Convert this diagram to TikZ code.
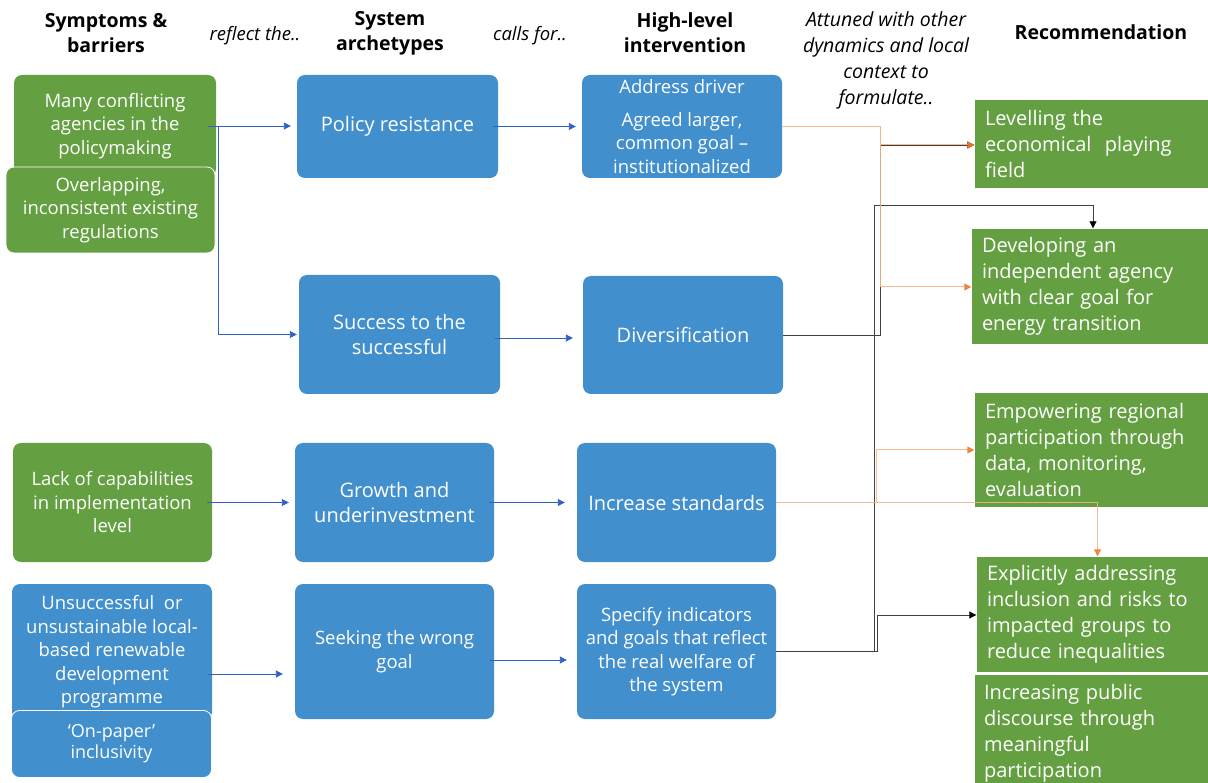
\documentclass[tikz,border=0pt]{standalone}
\usepackage{fontspec}
\setmainfont{Open Sans}
\usetikzlibrary{arrows.meta}
\definecolor{bxblue}{HTML}{428FCE}
\definecolor{bxgreen}{HTML}{64A042}
\definecolor{lnblue}{HTML}{2F62C4}
\definecolor{lnorange}{HTML}{F6B488}
\definecolor{tiporange}{HTML}{ED7D31}
\definecolor{lnblack}{HTML}{404040}
\begin{document}
\begin{tikzpicture}[x=1pt,y=-1pt,
  rbox/.style={rounded corners=8pt, text=white, align=center, inner sep=0pt, font=\fontsize{18.5}{23.5}\selectfont},
  bluebox/.style={rbox, fill=bxblue},
  greenbox/.style={rbox, fill=bxgreen},
  recbox/.style={fill=bxgreen, text=white, align=left, inner xsep=10pt, inner ysep=0pt, font=\fontsize{20}{26}\selectfont},
  hdr/.style={align=center, font=\bfseries\fontsize{19.5}{25}\selectfont},
  ital/.style={align=center, font=\itshape\fontsize{18.5}{26}\selectfont},
  bl/.style={draw=lnblue, line width=0.9pt, -{Triangle[length=7pt,width=7pt]}, shorten >=6pt},
  or/.style={draw=lnorange, line width=1pt, -{Triangle[length=7pt,width=7pt,color=tiporange]}, shorten >=0.5pt},
  bk/.style={draw=lnblack, line width=0.9pt, -{Triangle[length=7pt,width=7pt,color=black]}, shorten >=0.5pt}
]
\useasboundingbox (0,0) rectangle (1208,783);

% headers
\node[hdr] (hd1) at (106,33) {Symptoms \&\\barriers};
\node[ital] (hd2) at (255,36) {reflect the..};
\node[hdr] (hd3) at (390,33) {System\\archetypes};
\node[ital] (hd4) at (530,36) {calls for..};
\node[hdr] (hd5) at (685,33) {High-level\\intervention};
\node[ital, font=\itshape\fontsize{19.5}{26}\selectfont] (hd6) at (886,60) {Attuned with other\\dynamics and local\\context to\\formulate..};
\node[hdr] (hd7) at (1101,32) {Recommendation};

% column 1
\node[greenbox, minimum width=202pt, minimum height=102pt] (s1) at (115,126) {Many conflicting\\agencies in the\\policymaking};
\node[greenbox, draw=white, line width=0.8pt, minimum width=209pt, minimum height=86pt] (s2) at (110.5,210) {Overlapping,\\inconsistent existing\\regulations};
\node[greenbox, minimum width=199pt, minimum height=119pt] (s3) at (112.5,502.5) {Lack of capabilities\\in implementation\\level};
\node[bluebox, minimum width=200pt, minimum height=136pt] (s4) at (112,652) {Unsuccessful~ or\\unsustainable local-\\based renewable\\development\\programme};
\node[bluebox, draw=white, line width=0.8pt, minimum width=200pt, minimum height=67pt, font=\fontsize{18}{21}\selectfont] (s5) at (111.5,744) {‘On-paper’\\inclusivity};

% column 2
\node[bluebox, minimum width=201pt, minimum height=103pt, font=\fontsize{20}{25}\selectfont] (a1) at (397.5,126.5) {Policy resistance};
\node[bluebox, minimum width=201pt, minimum height=119pt, font=\fontsize{20}{25}\selectfont] (a2) at (399.5,334.5) {Success to the\\successful};
\node[bluebox, minimum width=199pt, minimum height=119pt, font=\fontsize{20}{25}\selectfont] (a3) at (394.5,502.5) {Growth and\\underinvestment};
\node[bluebox, minimum width=199pt, minimum height=135pt] (a4) at (394.5,651.5) {Seeking the wrong\\goal};

% column 3
\node[bluebox, minimum width=200pt, minimum height=103pt] (h1) at (682,126.5) {Address driver\\[9pt]Agreed larger,\\common goal --\\institutionalized};
\node[bluebox, minimum width=200pt, minimum height=118pt, font=\fontsize{20}{25}\selectfont] (h2) at (683,335) {Diversification};
\node[bluebox, minimum width=199pt, minimum height=119pt, font=\fontsize{20}{25}\selectfont] (h3) at (676.5,502.5) {Increase standards};
\node[bluebox, minimum width=199pt, minimum height=135pt] (h4) at (676.5,651.5) {Specify indicators\\and goals that reflect\\the real welfare of\\the system};

% column 4
\node[recbox, minimum width=233pt, minimum height=88pt, text width=213pt] (r1) at (1091.5,144) {Levelling the\\economical~ playing\\field};
\node[recbox, minimum width=236pt, minimum height=115pt, text width=216pt] (r2) at (1090,286.5) {Developing an\\independent agency\\with clear goal for\\energy transition};
\node[recbox, minimum width=233pt, minimum height=114pt, text width=213pt] (r3) at (1091.5,450) {Empowering regional\\participation through\\data, monitoring,\\evaluation};
\node[recbox, minimum width=231pt, minimum height=115pt, text width=211pt] (r4) at (1092.5,614.5) {Explicitly addressing\\inclusion and risks to\\impacted groups to\\reduce inequalities};
\node[recbox, draw=white, line width=0.8pt, minimum width=234pt, minimum height=118pt, text width=214pt] (r5) at (1091,733) {Increasing public\\discourse through\\meaningful\\participation};

% blue connectors
\coordinate (j1) at (218,126);
\draw[bl] ([xshift=-8pt]s1.east) -- (a1.west |- s1.east);
\draw[bl, shorten >=2pt] (j1) |- (a2.west);
\draw[bl] ([xshift=-5pt]a1.east) -- (h1.west);
\draw[bl, shorten >=10pt] ([xshift=-5pt]a2.east |- 0,338) -- (h2.west |- 0,338);
\draw[bl] ([xshift=-5pt]s3.east) -- (a3.west);
\draw[bl, shorten >=12pt] ([xshift=-5pt]a3.east) -- (h3.west);
\draw[bl, shorten >=12pt] ([xshift=-4pt]s4.east |- 0,674) -- (a4.west |- 0,674);
\draw[bl, shorten >=10pt] ([xshift=-4pt]a4.east |- 0,660) -- (h4.west |- 0,660);

% black connectors
\coordinate (o2) at (880,145);
\draw[bk] (h2.east) -| (o2) -- (r1.west |- o2);
\coordinate (k1) at (877,615);
\draw[bk] (h4.east) -| (k1) -- (r4.west |- k1);
\coordinate (k2) at (874,205);
\draw[bk] (h4.east -| k2) -- (k2) -| ([xshift=3pt]r2.north);

% orange connectors
\coordinate (o1) at (880,127);
\draw[or, opacity=0.9] (h1.east |- o1) -- (o1) |- (r2.west |- 0,287);
\draw[or, opacity=0.9] (o1) |- (r1.west |- o2);
\coordinate (o3) at (876,502);
\draw[or, opacity=0.9] (h3.east |- o3) -| ([xshift=5pt]r4.north);
\draw[or, opacity=0.9] (o3) |- (r3.west);
\end{tikzpicture}
\end{document}
